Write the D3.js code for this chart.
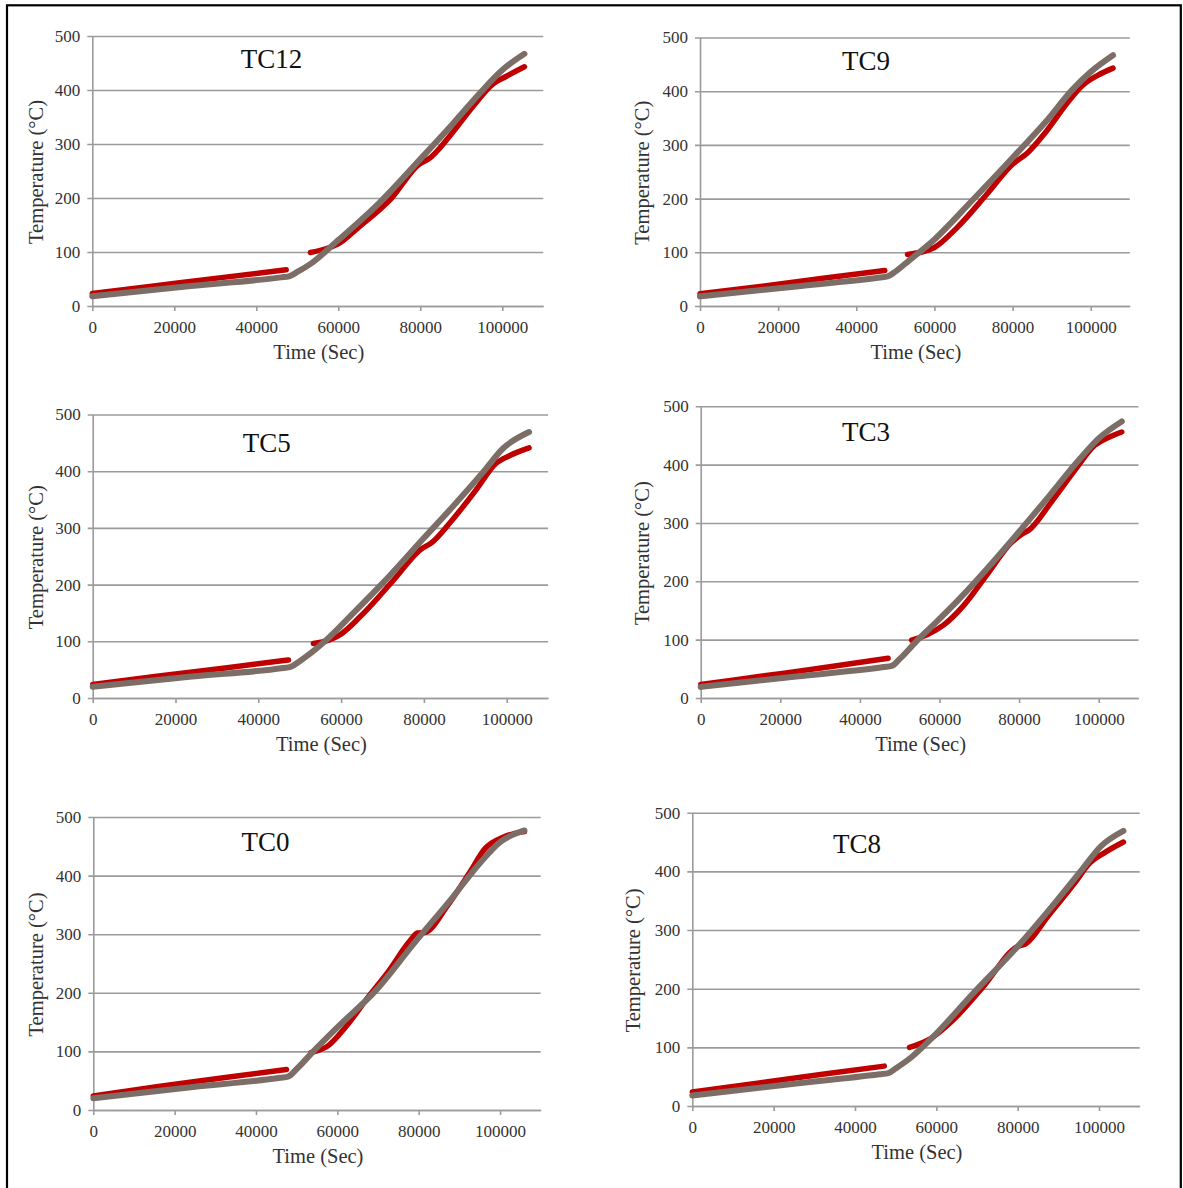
<!DOCTYPE html>
<html>
<head>
<meta charset="utf-8">
<script src="https://cdn.jsdelivr.net/npm/d3@7"></script>
<style>
body { margin: 0; background: #fff; }
svg text { font-family: "Liberation Serif", "Times New Roman", serif; }
</style>
</head>
<body>
<svg id="chart" width="1183" height="1188"></svg>
<script>
// axis ticks
var xTicks = [0, 20000, 40000, 60000, 80000, 100000];
var yTicks = [0, 100, 200, 300, 400, 500];
var panelNames = ["TC12", "TC9", "TC5", "TC3", "TC0", "TC8"];

// [time (s), temperature (C)]; null = gap in the measured record
var tc12Measured = [[0,23],[16000,38],[32000,53],[47300,67], null,
  [53200,99],[57000,106],[60000,115],[65000,146],[72900,199],[79800,263],[82000,272],
  [87000,313],[92800,369],[97700,411],[100900,425],[105400,443]];
var tc12Model = [[0,18],[24000,37],[46000,53],[48000,55],[50000,63],[53400,79],[60000,122],[70000,191],
  [80000,272],[88000,338],[94500,394],[100000,437],[105400,467]];

var tc9Measured = [[0,23],[16000,37],[32000,52],[47300,66], null,
  [53100,96],[57000,101],[60000,109],[65800,146],[73400,208],[80000,264],[83800,285],
  [88600,325],[94300,381],[98100,412],[101900,430],[105700,443]];
var tc9Model = [[0,18],[24000,36],[46000,53],[48000,55],[50000,64],[53400,84],[60000,124],[69600,196],
  [80000,276],[88600,344],[95200,402],[100000,436],[105700,467]];

var tc5Measured = [[0,24],[16000,39],[32000,53],[47300,67], null,
  [53300,96],[57000,102],[59200,109],[64700,144],[72800,209],[79200,262],[81900,274],
  [86400,310],[92800,369],[97300,413],[100900,428],[105400,441]];
var tc5Model = [[0,20],[24000,38],[46000,53],[47800,55],[50000,65],[56100,100],[63000,150],[70100,203],
  [80100,283],[86400,333],[94600,401],[99100,440],[105400,469]];

var tc3Measured = [[0,23],[16000,38],[32000,53],[47100,68], null,
  [53000,99],[57000,109],[61000,125],[66000,158],[72000,212],[78000,266],[80500,280],
  [82500,288],[88000,335],[94500,395],[98500,430],[102000,445],[105800,456]];
var tc3Model = [[0,19],[24000,37],[46000,53],[48000,55],[50000,67],[54300,98],[58400,125],[65000,170],[72000,222],
  [80000,285],[88000,350],[95000,408],[100000,445],[105800,474]];

var tc0Measured = [[0,24],[16000,40],[32000,55],[47500,69], null,
  [53500,98],[57600,109],[62200,143],[67700,194],[72300,234],[77900,289],[79700,302],
  [81500,303],[87100,349],[92600,406],[96300,446],[100900,466],[106000,475]];
var tc0Model = [[0,20],[24000,39],[46000,55],[47900,57],[50000,70],[54100,100],[60300,143],[69600,205],
  [78800,284],[88000,360],[95400,424],[100000,457],[106000,477]];

var tc8Measured = [[0,24],[16000,39],[32000,54],[47200,68], null,
  [53400,100],[58600,115],[64200,147],[71600,204],[80000,272],[81900,276],
  [87400,323],[94000,380],[97700,414],[101400,432],[106000,450]];
var tc8Model = [[0,18],[24000,37],[46000,54],[48200,56],[50000,64],[54000,84],[59500,120],[68800,190],
  [80000,272],[88400,340],[95800,403],[100500,443],[106000,469]];

var measuredSeries = [tc12Measured, tc9Measured, tc5Measured, tc3Measured, tc0Measured, tc8Measured];
var modelSeries = [tc12Model, tc9Model, tc5Model, tc3Model, tc0Model, tc8Model];

// where each small chart sits on the page
var boxes = [
  {left: 92.3, right: 543.3, bottom: 306, top: 36, titleX: 271.5, titleY: 68, yTitleX: 36.5},
  {left: 700, right: 1129.8, bottom: 306, top: 37.5, titleX: 866, titleY: 70, yTitleX: 642.5},
  {left: 92.7, right: 548.1, bottom: 698, top: 414.5, titleX: 266.7, titleY: 452, yTitleX: 36.5},
  {left: 700.7, right: 1138.5, bottom: 698, top: 406.3, titleX: 866, titleY: 441, yTitleX: 642},
  {left: 93.3, right: 540.7, bottom: 1110, top: 817, titleX: 265.4, titleY: 851, yTitleX: 36.5},
  {left: 692.3, right: 1139.7, bottom: 1106, top: 812.7, titleX: 857, titleY: 853, yTitleX: 633}
];

var gridColor = "#9b9b9b";
var labelColor = "#333";
var redColor = "#c00000";
var grayColor = "#7c6e67";
var serif = "'Liberation Serif', 'Times New Roman', serif";

var svg = d3.select("#chart");

// outer frame
svg.append("rect")
  .attr("x", 7).attr("y", 5.3)
  .attr("width", 1173.8).attr("height", 1200)
  .attr("fill", "none")
  .attr("stroke", "#000")
  .attr("stroke-width", 2.2);

panelNames.forEach(function(name, i) {
  var b = boxes[i];
  var x = d3.scaleLinear().domain([0, 110000]).range([b.left, b.right]);
  var y = d3.scaleLinear().domain([0, 500]).range([b.bottom, b.top]);
  var g = svg.append("g");

  // gridlines (stick out 5px left of the axis like tick marks)
  g.append("g")
    .attr("transform", "translate(" + (b.left - 5) + ",0)")
    .call(d3.axisRight(y).tickValues(yTicks).tickSize(b.right - b.left + 5).tickFormat(""))
    .call(function(s) { s.select(".domain").remove(); })
    .selectAll("line")
      .attr("stroke", gridColor)
      .attr("stroke-width", 1.6);

  // y axis
  var ya = g.append("g")
    .attr("transform", "translate(" + b.left + ",0)")
    .call(d3.axisLeft(y).tickValues(yTicks).tickSize(0).tickSizeOuter(0).tickPadding(12))
    .attr("font-family", serif);
  ya.select(".domain").attr("stroke", gridColor).attr("stroke-width", 1.6);
  ya.selectAll("text")
    .style("font-family", serif)
    .attr("font-size", 17)
    .attr("fill", labelColor);

  // x axis
  var xa = g.append("g")
    .attr("transform", "translate(0," + b.bottom + ")")
    .call(d3.axisBottom(x).tickValues(xTicks).tickSize(5).tickSizeOuter(0)
      .tickPadding(10).tickFormat(d3.format("d")))
    .attr("font-family", serif);
  xa.select(".domain").attr("stroke", gridColor).attr("stroke-width", 1.6);
  xa.selectAll("line").attr("stroke", gridColor).attr("stroke-width", 1.6);
  xa.selectAll("text")
    .style("font-family", serif)
    .attr("font-size", 17)
    .attr("fill", labelColor);

  // curves
  var line = d3.line()
    .defined(function(d) { return d !== null; })
    .x(function(d) { return x(d[0]); })
    .y(function(d) { return y(d[1]); })
    .curve(d3.curveMonotoneX);

  g.append("path")
    .datum(measuredSeries[i])
    .attr("d", line)
    .attr("fill", "none")
    .attr("stroke", redColor)
    .attr("stroke-width", 5.5)
    .attr("stroke-linecap", "round")
    .attr("stroke-linejoin", "round");

  g.append("path")
    .datum(modelSeries[i])
    .attr("d", line)
    .attr("fill", "none")
    .attr("stroke", grayColor)
    .attr("stroke-width", 6)
    .attr("stroke-linecap", "round")
    .attr("stroke-linejoin", "round");

  // titles
  g.append("text")
    .attr("x", b.titleX).attr("y", b.titleY)
    .attr("text-anchor", "middle")
    .attr("font-size", 27)
    .attr("fill", "#111")
    .text(name);

  g.append("text")
    .attr("x", (b.left + b.right) / 2 + 1)
    .attr("y", b.bottom + 53)
    .attr("text-anchor", "middle")
    .attr("font-size", 20.5)
    .attr("fill", labelColor)
    .text("Time (Sec)");

  g.append("text")
    .attr("transform", "translate(" + b.yTitleX + "," + ((b.top + b.bottom) / 2 + 1) + ") rotate(-90)")
    .attr("text-anchor", "middle")
    .attr("dy", "0.32em")
    .attr("font-size", 20.5)
    .attr("fill", labelColor)
    .text("Temperature (°C)");
});
</script>
</body>
</html>
